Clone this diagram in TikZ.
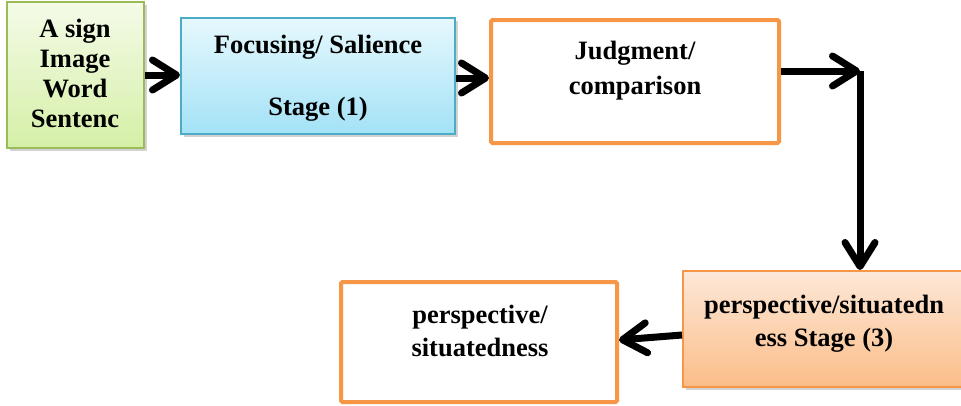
\documentclass[tikz,border=0pt]{standalone}
\usepackage{fontspec}
\setmainfont{Liberation Serif}
\usetikzlibrary{arrows.meta,shadows}
\definecolor{grB}{HTML}{9BBB59}
\definecolor{grT}{HTML}{F4FBE8}
\definecolor{grD}{HTML}{D5EFA6}
\definecolor{blB}{HTML}{4BACC6}
\definecolor{blT}{HTML}{E6F8FD}
\definecolor{blD}{HTML}{A3E2F6}
\definecolor{orB}{HTML}{F79646}
\definecolor{orT}{HTML}{FDE8D8}
\definecolor{orD}{HTML}{FBBD88}
\newcommand{\mylines}[2]{\fontsize{26.5}{#1}\selectfont\begin{tabular}[t]{@{}c@{}}#2\end{tabular}}
\tikzset{
  boxbase/.style={rectangle, inner sep=0pt},
  shad/.style={drop shadow={opacity=0.35, shadow xshift=3pt, shadow yshift=-3pt}},
  greenbox/.style={boxbase, shad, draw=grB, line width=2pt, top color=grT, bottom color=grD},
  bluebox/.style={boxbase, shad, draw=blB, line width=2pt, top color=blT, bottom color=blD},
  orangebox/.style={boxbase, shad, draw=orB, line width=2pt, top color=orT, bottom color=orD},
  whitebox/.style={boxbase, draw=orB, line width=4pt, fill=white, rounded corners=1.5pt},
  txt/.style={anchor=base, inner sep=0pt, font=\bfseries},
  arr/.style={line width=7pt, -{Straight Barb[length=24pt,width=30pt,round]}},
}
\begin{document}
\begin{tikzpicture}[x=1pt,y=-1pt]
\useasboundingbox (0,0) rectangle (961,405);
\fill[white] (0,0) rectangle (961,405);
% boxes
\node[greenbox, minimum width=137pt, minimum height=146pt] (sign) at (75.5,75) {};
\node[bluebox, minimum width=274pt, minimum height=116pt] (focus) at (318,76) {};
\node[whitebox, minimum width=288pt, minimum height=123pt] (judg) at (635,81.5) {};
\node[orangebox, minimum width=282pt, minimum height=116pt] (stage) at (824,329) {};
\node[whitebox, minimum width=276pt, minimum height=120pt] (persp) at (479,342) {};
% texts
\node[txt] (signt) at (75,37) {\mylines{30.3pt}{A sign\\Image\\Word\\Sentenc}};
\node[txt] (focust) at (318,53) {\mylines{31pt}{Focusing/ Salience\\ \\Stage (1)}};
\node[txt] (judgt) at (635,59) {\mylines{35pt}{Judgment/\\comparison}};
\node[txt] (staget) at (824,313) {\mylines{33pt}{perspective/situatedn\\ess Stage (3)}};
\node[txt] (perspt) at (480,323) {\mylines{33pt}{perspective/\\situatedness}};
% connectors
\coordinate (corner) at (860,71);
\draw[arr] (sign.east) -- (sign.east -| focus.west);
\draw[arr] ([yshift=-2pt]focus.east) -- ([yshift=-2pt]focus.east -| judg.west);
\draw[arr] (judg.east |- corner) -- (corner);
\draw[line width=7pt] (corner) -- ++(0,6);
\draw[arr] (corner) -- (corner |- stage.north);
\draw[arr] ([yshift=-6pt]stage.west) -- ([yshift=2pt]persp.east);
\end{tikzpicture}
\end{document}
